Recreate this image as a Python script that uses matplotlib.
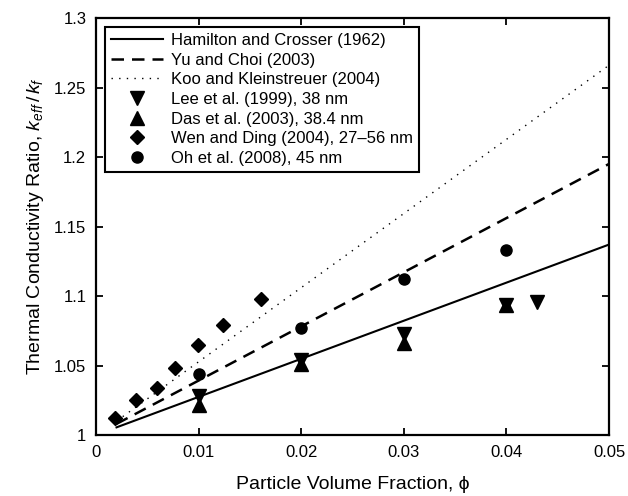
import matplotlib
matplotlib.use("Agg")
import matplotlib.pyplot as plt

plt.rcParams['font.family'] = ['Liberation Sans', 'DejaVu Sans']
plt.rcParams['mathtext.fontset'] = 'custom'
plt.rcParams['mathtext.rm'] = 'Liberation Sans'
plt.rcParams['mathtext.it'] = 'Liberation Sans:italic'

# Model lines
hc_x = [0.002, 0.05]
hc_y = [1.0055, 1.137]
yc_x = [0.002, 0.05]
yc_y = [1.008, 1.195]
kk_x = [0.002, 0.05]
kk_y = [1.010, 1.266]

# Experimental data
lee_x = [0.01, 0.02, 0.03, 0.04, 0.043]
lee_y = [1.028, 1.054, 1.0725, 1.0935, 1.096]
das_x = [0.01, 0.02, 0.03, 0.04]
das_y = [1.0215, 1.051, 1.0665, 1.0935]
wen_x = [0.0019, 0.0039, 0.0059, 0.0077, 0.0099, 0.0124, 0.0161]
wen_y = [1.012, 1.025, 1.034, 1.048, 1.065, 1.079, 1.098]
oh_x = [0.01, 0.02, 0.03, 0.04]
oh_y = [1.044, 1.077, 1.112, 1.133]

xticks = [0, 0.01, 0.02, 0.03, 0.04, 0.05]
xtick_labels = ['0', '0.01', '0.02', '0.03', '0.04', '0.05']
yticks = [1, 1.05, 1.1, 1.15, 1.2, 1.25, 1.3]
ytick_labels = ['1', '1.05', '1.1', '1.15', '1.2', '1.25', '1.3']

fig = plt.figure(figsize=(6.28, 4.96), dpi=100)
ax = fig.add_axes([96/628, 61/496, 513/628, 417/496])

ax.plot(hc_x, hc_y, color='black', lw=1.5, ls='-', label='Hamilton and Crosser (1962)')
ax.plot(yc_x, yc_y, color='black', lw=1.8, ls=(0, (5, 3.2)), label='Yu and Choi (2003)')
ax.plot(kk_x, kk_y, color='black', lw=1.0, ls=(0, (1, 4.5)), label='Koo and Kleinstreuer (2004)')
ax.plot(lee_x, lee_y, 'v', color='black', ms=9.5, ls='none', label='Lee et al. (1999), 38 nm')
ax.plot(das_x, das_y, '^', color='black', ms=9.5, ls='none', label='Das et al. (2003), 38.4 nm')
ax.plot(wen_x, wen_y, 'D', color='black', ms=7.5, ls='none', label='Wen and Ding (2004), 27\u201356 nm')
ax.plot(oh_x, oh_y, 'o', color='black', ms=8, ls='none', label='Oh et al. (2008), 45 nm')

ax.set_xlim(0, 0.05)
ax.set_ylim(1, 1.3)
ax.set_xticks(xticks)
ax.set_xticklabels(xtick_labels)
ax.set_yticks(yticks)
ax.set_yticklabels(ytick_labels)
ax.tick_params(direction='in', top=True, right=True, length=5, width=1.3,
               labelsize=12, pad=7)
for s in ax.spines.values():
    s.set_linewidth(1.6)

ax.set_xlabel('Particle Volume Fraction, \u03d5', fontsize=14, labelpad=12)
ax.set_ylabel(r'Thermal Conductivity Ratio, $k_{eff}\,/\,k_f$', fontsize=14, labelpad=6)

leg = ax.legend(loc='upper left', bbox_to_anchor=(9/513, 408/417), borderaxespad=0,
                fontsize=12, handlelength=3.1, handletextpad=0.5,
                labelspacing=0.28, borderpad=0.35, fancybox=False,
                edgecolor='black', framealpha=1)
leg.get_frame().set_linewidth(1.5)

fig.savefig('out.png', dpi=100)
